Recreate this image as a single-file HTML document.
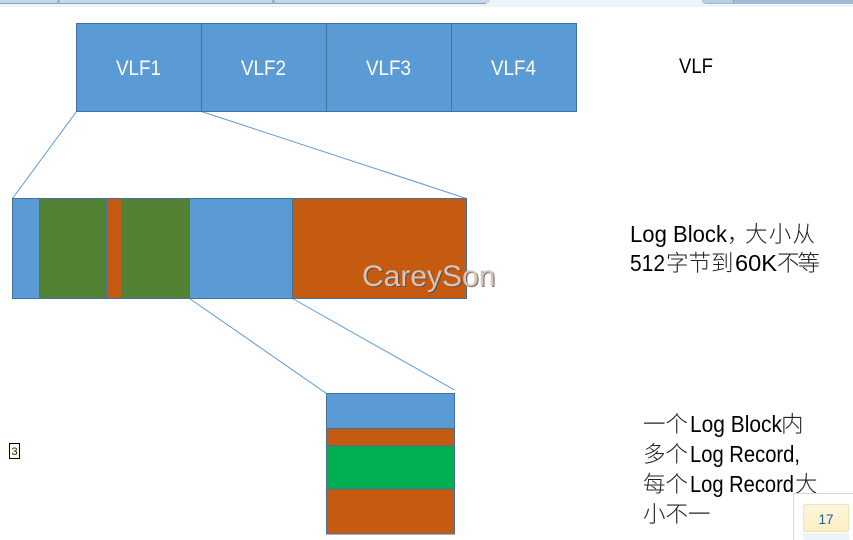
<!DOCTYPE html>
<html>
<head>
<meta charset="utf-8">
<style>
html,body{margin:0;padding:0;background:#fff;}
body{width:853px;height:540px;overflow:hidden;position:relative;}
svg{position:absolute;left:0;top:0;}
text{font-family:"Liberation Sans","Noto Sans CJK SC",sans-serif;}
.c{font-family:"Noto Sans CJK SC","Liberation Sans",sans-serif;font-size:22.5px;font-weight:300;fill:#222;}
.l{font-size:23px;fill:#000;}
</style>
</head>
<body>
<svg width="853" height="540" viewBox="0 0 853 540" xmlns="http://www.w3.org/2000/svg">
<defs>
<linearGradient id="y" x1="0" y1="0" x2="0" y2="1"><stop offset="0" stop-color="#fdf6dc"/><stop offset="1" stop-color="#fbeec4"/></linearGradient>
</defs>
<!-- top chrome -->
<rect x="0" y="0" width="853" height="7" fill="#eff4f8"/>
<path d="M0 0H490Q490 3.5 485 3.5H0Z" fill="#c6d7e8"/>
<rect x="0" y="3" width="486" height="1" fill="#8aa0ba"/>
<rect x="57" y="0" width="3" height="3.5" fill="#9db3cb"/>
<rect x="272" y="0" width="3" height="3.5" fill="#9db3cb"/>
<path d="M702 0H853V4H707Q702 4 702 0Z" fill="#a3bcd5"/>
<rect x="702" y="0" width="31" height="3" fill="#bccfe2"/>
<rect x="733" y="0" width="1" height="4" fill="#8aa0ba"/>

<!-- connectors -->
<g stroke="#5b9bd5" stroke-width="1" fill="none">
<path d="M76.5 111.5L12.5 198.5"/>
<path d="M201.5 111.5L466.5 198.5"/>
<path d="M189.5 298.5L326.5 393.5"/>
<path d="M292.5 298.5L454.5 390"/>
</g>

<!-- VLF row -->
<g stroke="#41719c" stroke-width="1">
<rect x="76.5" y="23.5" width="125" height="88" fill="#5b9bd5"/>
<rect x="201.5" y="23.5" width="125" height="88" fill="#5b9bd5"/>
<rect x="326.5" y="23.5" width="125" height="88" fill="#5b9bd5"/>
<rect x="451.5" y="23.5" width="125" height="88" fill="#5b9bd5"/>
</g>
<g fill="#fff" font-size="21.5">
<text x="116" y="75" textLength="45" lengthAdjust="spacingAndGlyphs">VLF1</text>
<text x="241" y="75" textLength="45" lengthAdjust="spacingAndGlyphs">VLF2</text>
<text x="366" y="75" textLength="45" lengthAdjust="spacingAndGlyphs">VLF3</text>
<text x="491" y="75" textLength="45" lengthAdjust="spacingAndGlyphs">VLF4</text>
</g>

<!-- Log block row -->
<g stroke="#41719c" stroke-width="1">
<rect x="12.5" y="198.5" width="27" height="100" fill="#5b9bd5"/>
<rect x="39.5" y="198.5" width="67" height="100" fill="#548235"/>
<rect x="106.5" y="198.5" width="15" height="100" fill="#c55a11"/>
<rect x="121.5" y="198.5" width="68" height="100" fill="#548235"/>
<rect x="189.5" y="198.5" width="103" height="100" fill="#5b9bd5"/>
<rect x="292.5" y="198.5" width="174" height="100" fill="#c55a11"/>
</g>

<!-- Record column -->
<g stroke="#41719c" stroke-width="1">
<rect x="326.5" y="393.5" width="128" height="35" fill="#5b9bd5"/>
<rect x="326.5" y="428.5" width="128" height="17.5" fill="#c55a11"/>
<rect x="326.5" y="446" width="128" height="43" fill="#00b050"/>
<rect x="326.5" y="489" width="128" height="45" fill="#c55a11"/>
</g>

<!-- labels -->
<text x="679" y="73" font-size="21" fill="#000" textLength="34" lengthAdjust="spacingAndGlyphs">VLF</text>

<text class="l" x="630" y="242" textLength="97" lengthAdjust="spacingAndGlyphs">Log Block</text>
<text class="c" x="727" y="242">，</text>
<text class="c" x="745" y="242" textLength="70">大小从</text>
<text class="l" x="630" y="271" textLength="35" lengthAdjust="spacingAndGlyphs">512</text>
<text class="c" x="666" y="271">字节到</text>
<text class="l" x="735" y="271" textLength="42" lengthAdjust="spacingAndGlyphs">60K</text>
<text class="c" x="777" y="271" textLength="43">不等</text>

<text class="c" x="643" y="432">一个</text>
<text class="l" x="690" y="432" textLength="92" lengthAdjust="spacingAndGlyphs">Log Block</text>
<text class="c" x="781" y="432">内</text>
<text class="c" x="643" y="462">多个</text>
<text class="l" x="690" y="462" textLength="110" lengthAdjust="spacingAndGlyphs">Log Record,</text>
<text class="c" x="643" y="492">每个</text>
<text class="l" x="690" y="492" textLength="104" lengthAdjust="spacingAndGlyphs">Log Record</text>
<text class="c" x="795" y="492">大</text>
<text class="c" x="643" y="522">小不一</text>

<!-- watermark -->
<text x="362" y="286" font-size="30" fill="#5a4a40" opacity="0.75" transform="translate(1.2 1.2)">CareySon</text>
<text x="362" y="286" font-size="30" fill="#d3c4bc">CareySon</text>

<!-- small marker -->
<rect x="9.5" y="443.5" width="10" height="15" fill="#ffffe8" stroke="#000"/>
<text x="14.5" y="455" font-size="11" fill="#222" text-anchor="middle">3</text>

<!-- corner widget -->
<path d="M793.5 540V493.5H853" stroke="#d8d8d8" fill="#fff"/>
<rect x="803.5" y="504.5" width="45" height="27" rx="2" fill="url(#y)" stroke="#f0e3b8"/>
<text x="826" y="524" font-size="13.5" fill="#1a5ea8" text-anchor="middle">17</text>
<rect x="803" y="533" width="46" height="7" fill="#eef3f8"/>
</svg>
</body>
</html>
